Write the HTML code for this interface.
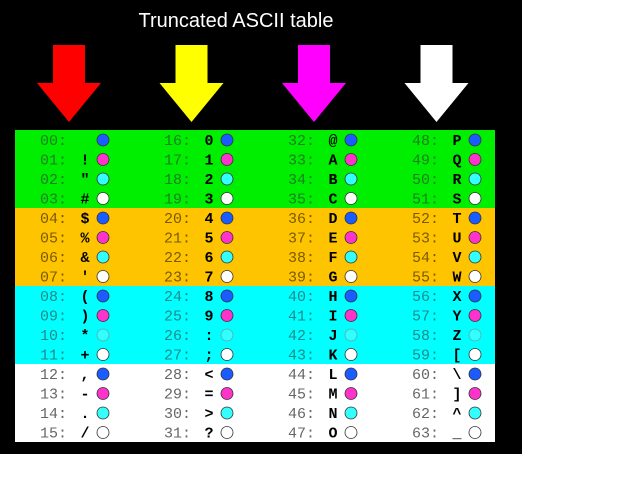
<!DOCTYPE html>
<html><head><meta charset="utf-8"><style>
html,body{margin:0;padding:0;background:#fff;width:620px;height:487px;overflow:hidden}
svg{display:block}
</style></head><body>
<svg id="chart" width="620" height="487" xmlns="http://www.w3.org/2000/svg">
<rect x="0" y="0" width="522" height="454" fill="#000"/>
<text x="236" y="27" text-anchor="middle" fill="#fff" font-family="Liberation Sans, sans-serif" font-size="20">Truncated ASCII table</text>
<g id="bands"></g><g id="arrows"></g><g id="cells"></g>
</svg>
<script>
const arrowColors=["#ff0000","#ffff00","#ff00ff","#ffffff"];
const bandColors=["#00ee00","#ffc400","#00ffff","#ffffff"];
const labelColors=["#1f7f1f","#7a5a00","#1f8a8a","#666666"];
const dotColors=["#1a5cff","#ff33cc","#33ffff","#ffffff"];
const codes=[];for(let i=0;i<64;i++)codes.push(i);
const NS="http://www.w3.org/2000/svg";
const svg=document.getElementById('chart');
const colX=c=>15+c*124, rowY=r=>130+r*19.5;
function mk(t,a,p){const e=document.createElementNS(NS,t);for(const k in a)e.setAttribute(k,a[k]);p.appendChild(e);return e;}
const bands=document.getElementById('bands');
bandColors.forEach((c,i)=>{const r=mk('rect',{x:15,y:rowY(i*4),width:480,height:78,fill:c},bands);

});
const arrows=document.getElementById('arrows');
arrowColors.forEach((c,i)=>{const cx=69+i*122.5;
const p=mk('polygon',{points:`${cx-16},45 ${cx+16},45 ${cx+16},83 ${cx+32},83 ${cx},122 ${cx-32},83 ${cx-16},83`,fill:c},arrows);

});
const cells=document.getElementById('cells');
codes.forEach(n=>{const col=Math.floor(n/16),row=n%16,band=Math.floor(row/4),k=row%4;
const x=colX(col),y=rowY(row)+15;
const g=mk('g',{},cells);


const l=mk('text',{x:x+25,y:y,fill:labelColors[band],'font-family':'Liberation Mono, monospace','font-size':'15'},g);
l.textContent=String(n).padStart(2,'0')+':';
const ch=String.fromCharCode(32+n);
const t=mk('text',{x:x+70,y:y,'text-anchor':'middle',fill:'#000','font-family':'Liberation Mono, monospace','font-size':'15','font-weight':'bold'},g);
t.textContent=ch;
const cc=mk('circle',{cx:x+88,cy:y-5,r:6,fill:dotColors[k],stroke:(band==2&&k==2)?'#5aa':'#333','stroke-width':0.8},g);

});
</script>
</body></html>
